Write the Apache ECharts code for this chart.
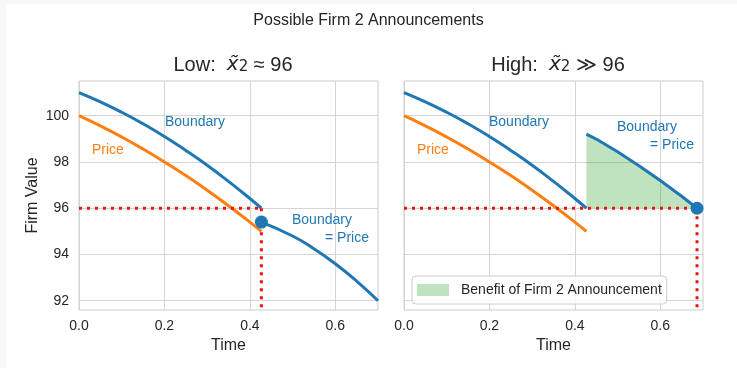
<!DOCTYPE html>
<html>
<head>
<meta charset="utf-8">
<script src="https://cdn.jsdelivr.net/npm/echarts@6/dist/echarts.min.js"></script>
<style>
html,body{margin:0;padding:0;background:#fff;}
#chart{width:737px;height:368px;}
</style>
</head>
<body>
<div id="chart"></div>
<script>
// ---- data ----
var threshold = 96;
var tLow = 0.427;
var tHigh = 0.686;
var timeEarly = [0, 0.05, 0.1, 0.15, 0.2, 0.25, 0.3, 0.35, 0.4, 0.427];
var boundaryEarly = [101.0, 100.6, 100.15, 99.65, 99.1, 98.5, 97.86, 97.16, 96.42, 96.0];
var priceEarly = [100.0, 99.56, 99.08, 98.56, 98.0, 97.41, 96.78, 96.11, 95.40, 95.0];
var timeLowLate = [0.427, 0.5, 0.55, 0.6, 0.65, 0.7];
var lowLate = [95.4, 94.8, 94.25, 93.6, 92.85, 92.0];
var timeHighLate = [0.427, 0.45, 0.5, 0.55, 0.6, 0.65, 0.686];
var highLate = [99.2, 98.99, 98.44, 97.84, 97.2, 96.52, 96.0];
var xTicks = [0, 0.2, 0.4, 0.6];
var yTicks = [92, 94, 96, 98, 100];
var xRange = [0, 0.7];
var yRange = [91.6, 101.5];

function pairs(xs, ys) { return xs.map(function (x, i) { return [x, ys[i]]; }); }

var BLUE = '#1f77b4', ORANGE = '#ff7f0e', RED = '#ee1111', GREEN = 'rgba(44,160,44,0.3)';
var FONT = '"Liberation Sans", Arial, sans-serif';
var TXT = '#262626';
var LEGEND_NAME = 'Benefit of Firm 2 Announcement';

var chart = echarts.init(document.getElementById('chart'), null, {renderer: 'canvas'});

function xAxisCfg(idx) {
  return {
    type: 'value', gridIndex: idx, min: xRange[0], max: xRange[1],
    name: 'Time', nameLocation: 'middle', nameGap: 27,
    nameTextStyle: {fontFamily: FONT, fontSize: 16, color: TXT},
    axisLine: {show: false},
    axisTick: {show: false, customValues: xTicks},
    axisLabel: {fontFamily: FONT, fontSize: 14, color: TXT, margin: 9, customValues: xTicks,
      formatter: function (v) { return v.toFixed(1); }},
    splitLine: {show: true, lineStyle: {color: '#d5d5d5', width: 1}}
  };
}
function yAxisCfg(idx, labels) {
  return {
    type: 'value', gridIndex: idx, min: yRange[0], max: yRange[1],
    name: labels ? 'Firm Value' : '', nameLocation: 'middle', nameGap: 38,
    nameTextStyle: {fontFamily: FONT, fontSize: 16, color: TXT},
    axisLine: {show: false},
    axisTick: {show: false, customValues: yTicks},
    axisLabel: {show: labels, fontFamily: FONT, fontSize: 14, color: TXT, margin: 10, customValues: yTicks,
      formatter: function (v) { return String(v); }},
    splitLine: {show: true, lineStyle: {color: '#d5d5d5', width: 1}}
  };
}

var dotted = {color: RED, width: 3, type: [3, 5]};

function txt(x, y, s, color, align) {
  return {type: 'text', x: x, y: y, style: {text: s, fill: color, font: '14px ' + FONT, textAlign: align || 'left', textVerticalAlign: 'middle'}, z: 50};
}
var richSub = {
  a: {fontFamily: FONT, fontSize: 20, fontWeight: 'normal', color: TXT, padding: [0, 0, 5, 0]},
  i: {fontFamily: '"DejaVu Sans", sans-serif', fontStyle: 'italic', fontWeight: 'normal', fontSize: 20, color: TXT, padding: [0, 0, 5, 0]},
  s: {fontFamily: '"DejaVu Sans", sans-serif', fontWeight: 'normal', fontSize: 15, color: TXT}
};

// polygon between the threshold and the post-announcement boundary, built through the axes
function benefitRender(params, api) {
  if (params.dataIndex !== 0) return null;
  var pts = [];
  for (var i = 0; i < timeHighLate.length; i++) pts.push(api.coord([timeHighLate[i], highLate[i]]));
  for (var j = timeHighLate.length - 1; j >= 0; j--) pts.push(api.coord([timeHighLate[j], threshold]));
  return {type: 'polygon', shape: {points: pts, smooth: 0}, style: {fill: GREEN}};
}

var option = {
  backgroundColor: '#f8f8f8',
  animation: false,
  title: [
    {text: 'Possible Firm 2 Announcements', left: 'center', top: 8,
     textStyle: {fontFamily: FONT, fontSize: 16, fontWeight: 'normal', color: TXT}},
    {text: '{a|Low:  }{i|x\u0303}{s|2}{a| \u2248 96}', left: 228, textAlign: 'center', top: 50,
     textStyle: {fontWeight: 'normal', rich: richSub}},
    {text: '{a|High:  }{i|x\u0303}{s|2}{a| \u226B 96}', left: 553, textAlign: 'center', top: 50,
     textStyle: {fontWeight: 'normal', rich: richSub}}
  ],
  graphic: [
    {type: 'rect', shape: {x: 6, y: 4, width: 731, height: 364}, style: {fill: '#ffffff'}, z: -10, silent: true},
    txt(165, 122, 'Boundary', BLUE),
    txt(92, 150, 'Price', ORANGE),
    txt(292, 220, 'Boundary', BLUE),
    txt(369, 238, '= Price', BLUE, 'right'),
    txt(489, 122, 'Boundary', BLUE),
    txt(617, 127, 'Boundary', BLUE),
    txt(694, 145, '= Price', BLUE, 'right'),
    txt(417, 150, 'Price', ORANGE)
  ],
  legend: {
    data: [{name: LEGEND_NAME, icon: 'rect', itemStyle: {color: GREEN}}],
    left: 412, top: 276, orient: 'horizontal',
    padding: [7, 5, 7, 5], itemWidth: 32, itemHeight: 12,
    borderColor: '#cccccc', borderWidth: 1, borderRadius: 4,
    backgroundColor: 'rgba(255,255,255,0.85)',
    textStyle: {fontFamily: FONT, fontSize: 14, color: TXT, padding: [0, 0, 0, 7]},
    selectedMode: false
  },
  grid: [
    {left: 79, top: 81, width: 299, height: 229, show: true, borderColor: '#cccccc', borderWidth: 1, backgroundColor: 'transparent'},
    {left: 404, top: 81, width: 299, height: 229, show: true, borderColor: '#cccccc', borderWidth: 1, backgroundColor: 'transparent'}
  ],
  xAxis: [xAxisCfg(0), xAxisCfg(1)],
  yAxis: [yAxisCfg(0, true), yAxisCfg(1, false)],
  series: [
    // left panel
    {type: 'line', xAxisIndex: 0, yAxisIndex: 0, data: pairs(timeEarly, boundaryEarly), smooth: true, showSymbol: false, lineStyle: {color: BLUE, width: 3}, z: 5},
    {type: 'line', xAxisIndex: 0, yAxisIndex: 0, data: pairs(timeEarly, priceEarly), smooth: true, showSymbol: false, lineStyle: {color: ORANGE, width: 3}, z: 5},
    {type: 'line', xAxisIndex: 0, yAxisIndex: 0, data: pairs(timeLowLate, lowLate), smooth: true, showSymbol: false, lineStyle: {color: BLUE, width: 3}, z: 5},
    {type: 'line', xAxisIndex: 0, yAxisIndex: 0, data: [[0, threshold], [tLow, threshold]], showSymbol: false, lineStyle: dotted, z: 6},
    {type: 'line', xAxisIndex: 0, yAxisIndex: 0, data: [[tLow, threshold], [tLow, yRange[0]]], showSymbol: false, lineStyle: dotted, z: 6},
    {type: 'scatter', xAxisIndex: 0, yAxisIndex: 0, data: [[tLow, lowLate[0]]], symbolSize: 13, itemStyle: {color: BLUE, opacity: 1}, z: 7},
    // right panel
    {type: 'custom', name: LEGEND_NAME, xAxisIndex: 1, yAxisIndex: 1, renderItem: benefitRender,
     data: pairs(timeHighLate, highLate), itemStyle: {color: GREEN}, z: 2, clip: true},
    {type: 'line', xAxisIndex: 1, yAxisIndex: 1, data: pairs(timeEarly, boundaryEarly), smooth: true, showSymbol: false, lineStyle: {color: BLUE, width: 3}, z: 5},
    {type: 'line', xAxisIndex: 1, yAxisIndex: 1, data: pairs(timeEarly, priceEarly), smooth: true, showSymbol: false, lineStyle: {color: ORANGE, width: 3}, z: 5},
    {type: 'line', xAxisIndex: 1, yAxisIndex: 1, data: pairs(timeHighLate, highLate), smooth: false, showSymbol: false, lineStyle: {color: BLUE, width: 3}, z: 5},
    {type: 'line', xAxisIndex: 1, yAxisIndex: 1, data: [[0, threshold], [tHigh, threshold]], showSymbol: false, lineStyle: dotted, z: 6},
    {type: 'line', xAxisIndex: 1, yAxisIndex: 1, data: [[tHigh, threshold], [tHigh, yRange[0]]], showSymbol: false, lineStyle: dotted, z: 6},
    {type: 'scatter', xAxisIndex: 1, yAxisIndex: 1, data: [[tHigh, highLate[highLate.length - 1]]], symbolSize: 13, itemStyle: {color: BLUE, opacity: 1}, z: 7}
  ]
};
chart.setOption(option);
</script>
</body>
</html>
